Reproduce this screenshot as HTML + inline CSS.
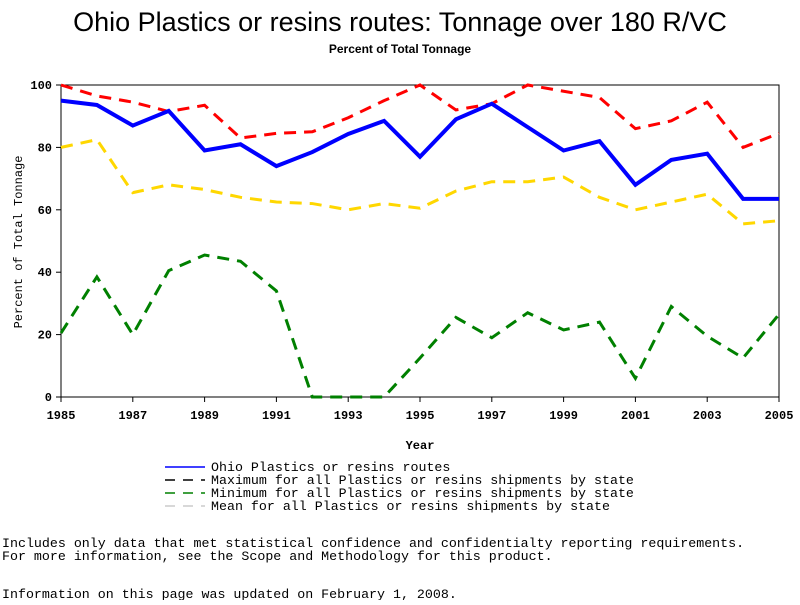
<!DOCTYPE html>
<html><head><meta charset="utf-8"><style>
body{margin:0;background:#fff;width:800px;height:600px;overflow:hidden}
svg text{font-family:"Liberation Mono",monospace}
</style></head><body>
<svg width="800" height="600">
<text x="400" y="31" text-anchor="middle" font-size="27" style="font-family:'Liberation Sans',sans-serif">Ohio Plastics or resins routes: Tonnage over 180 R/VC</text>
<text x="400" y="53" text-anchor="middle" font-size="12" font-weight="bold" style="font-family:'Liberation Sans',sans-serif">Percent of Total Tonnage</text>
<g id="axes"></g>
<g id="series"></g>
<text x="420" y="449" text-anchor="middle" font-size="12" font-weight="bold">Year</text>
<text transform="translate(22,242) rotate(-90)" text-anchor="middle" font-size="12">Percent of Total Tonnage</text>
<g id="legend" font-size="13.3"></g>
<text x="2" y="547" font-size="13.3">Includes only data that met statistical confidence and confidentialty reporting requirements.</text>
<text x="2" y="560" font-size="13.3">For more information, see the Scope and Methodology for this product.</text>
<text x="2" y="598" font-size="13.3">Information on this page was updated on February 1, 2008.</text>
</svg>
<script>
const years=[1985,1986,1987,1988,1989,1990,1991,1992,1993,1994,1995,1996,1997,1998,1999,2000,2001,2002,2003,2004,2005];
const ohio=[95,93.6,87,91.7,79,81,74,78.5,84.3,88.5,77,89,94,86.5,79,82,68,76,78,63.5,63.5];
const maxv=[100,96.5,94.5,91.5,93.5,83,84.5,85,89.5,95,100,92,94,100,98,96,86,88.5,94.5,80,84.5];
const minv=[20.5,38.5,20,40.5,45.5,43.5,34,0,0,0,12.5,25.5,19,27,21.5,24,6,29,19.5,12.5,26.5];
const meanv=[80,82.5,65.5,68,66.5,64,62.5,62,60,62,60.5,66,69,69,70.5,64,60,62.5,65,55.5,56.5];
const yTicks=[0,20,40,60,80,100];
const xTicks=[1985,1987,1989,1991,1993,1995,1997,1999,2001,2003,2005];
const X=y=>61+(y-1985)*(779-61)/20;
const Y=v=>397-v*3.12;
const NS='http://www.w3.org/2000/svg';
function mk(t,a,p){const e=document.createElementNS(NS,t);for(const k in a)e.setAttribute(k,a[k]);p.appendChild(e);return e;}
const ax=document.getElementById('axes');
const fr=mk('rect',{x:61,y:85,width:718,height:312,fill:'none',stroke:'#000','stroke-width':1},ax);


yTicks.forEach(v=>{mk('line',{x1:56,x2:61,y1:Y(v),y2:Y(v),stroke:'#000'},ax);
const t=mk('text',{x:52,y:Y(v)+4,'text-anchor':'end','font-size':12,'font-weight':'bold'},ax);t.textContent=v;

});
xTicks.forEach(v=>{mk('line',{x1:X(v),x2:X(v),y1:397,y2:402,stroke:'#000'},ax);
const t=mk('text',{x:X(v),y:419,'text-anchor':'middle','font-size':12,'font-weight':'bold'},ax);t.textContent=v;

});
const sg=document.getElementById('series');
const defs=[[maxv,'#ff0000','12,8',3,'max-line'],[meanv,'#ffd700','12,8',3,'mean-line'],[minv,'#008000','12,8',3,'min-line'],[ohio,'#0000ff','',4,'ohio-line']];
defs.forEach(d=>{const pts=years.map((y,i)=>X(y)+','+Y(d[0][i])).join(' ');
const p=mk('polyline',{points:pts,fill:'none',stroke:d[1],'stroke-width':d[3],'stroke-dasharray':d[2]},sg);

});
const lg=document.getElementById('legend');
const items=[['#0000ff','','Ohio Plastics or resins routes'],['#000','10,8','Maximum for all Plastics or resins shipments by state'],['#008000','10,8','Minimum for all Plastics or resins shipments by state'],['#ccc','10,8','Mean for all Plastics or resins shipments by state']];
items.forEach((it,i)=>{const y=467+i*13;
mk('line',{x1:165,x2:205,y1:y,y2:y,stroke:it[0],'stroke-width':1.5,'stroke-dasharray':it[1]},lg);
const t=mk('text',{x:211,y:y+4},lg);t.textContent=it[2];

});
</script>
</body></html>
